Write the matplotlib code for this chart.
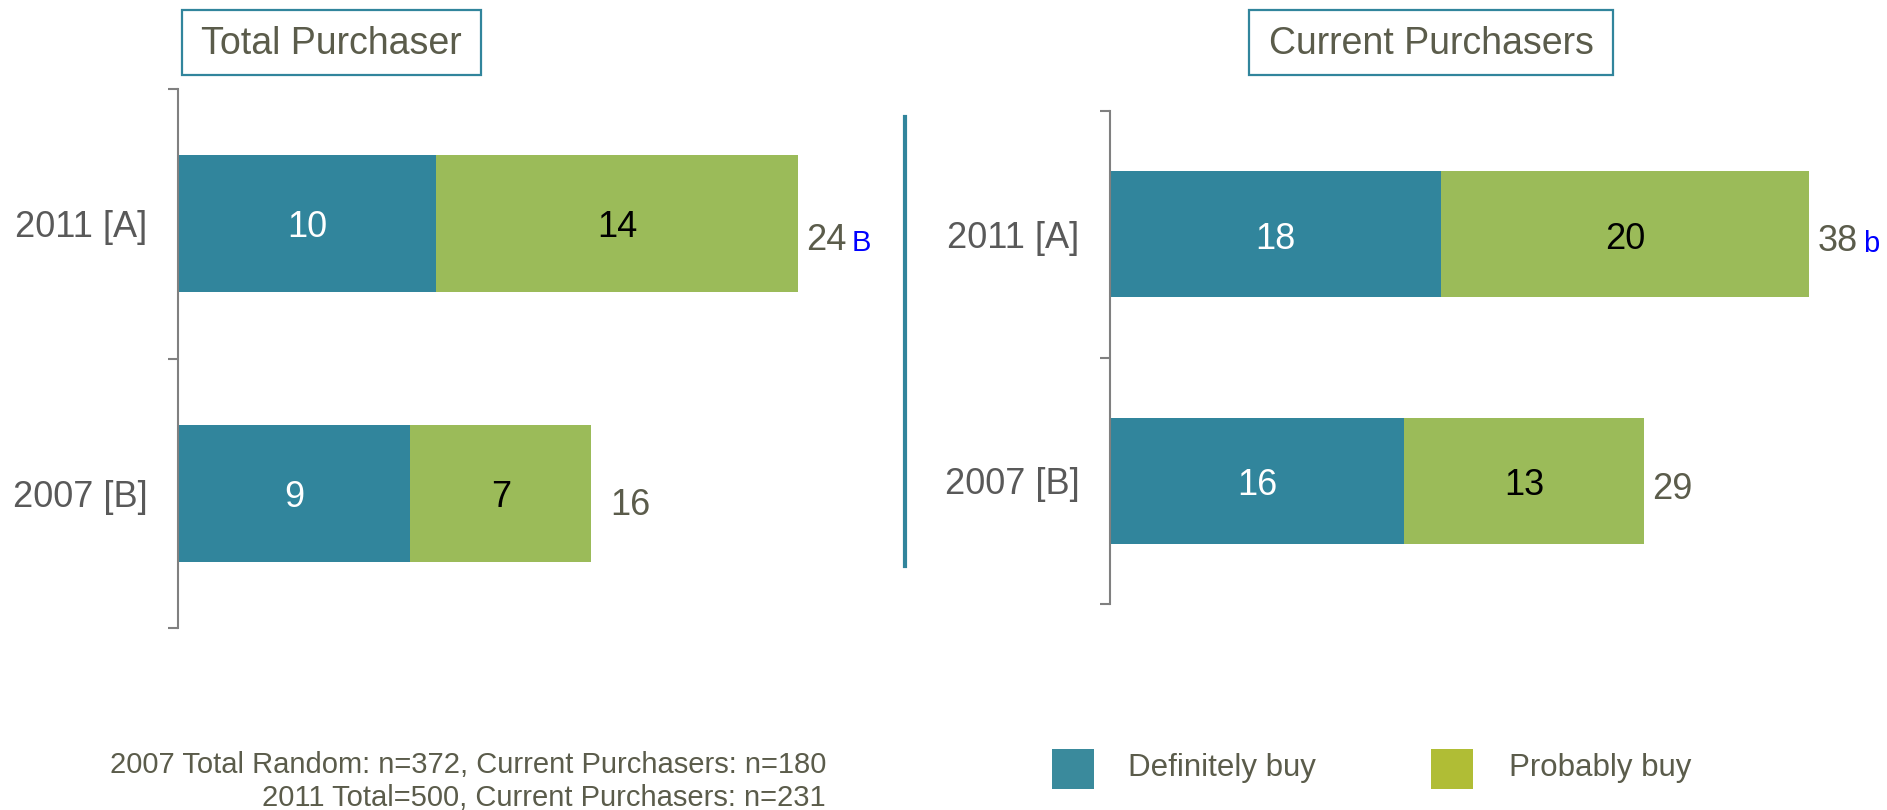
import matplotlib
matplotlib.use("Agg")
import matplotlib.pyplot as plt
from matplotlib.patches import Rectangle
from matplotlib.lines import Line2D

plt.rcParams['font.family'] = ['Liberation Sans', 'DejaVu Sans']

# ---- data ----
categories = ["2011 [A]", "2007 [B]"]
panel_titles = ["Total Purchaser", "Current Purchasers"]
definitely_total = [10, 9]
probably_total = [14, 7]
definitely_current = [18, 16]
probably_current = [20, 13]
sig_total = ["B", ""]
sig_current = ["b", ""]
series_names = ["Definitely buy", "Probably buy"]
footnote_lines = ["2007 Total Random: n=372, Current Purchasers: n=180",
                  "2011 Total=500, Current Purchasers: n=231"]

# ---- style ----
TEAL = "#31859C"
GREEN = "#9BBB59"
LEG_TEAL = "#3A8A9C"
LEG_GREEN = "#B0BD35"
OLIVE_TXT = "#5B5C4B"
GRAY_TXT = "#595959"
SPINE = "#808080"

W, H = 1887, 810
fig = plt.figure(figsize=(W / 100, H / 100), dpi=100)


def fx(px):
    return px / W


def fy(py):
    return 1 - py / H


def panel(rect_px, xmax, defin, prob, sig, total_off, inner_dy):
    x0, y0, x1, y1 = rect_px
    ax = fig.add_axes([fx(x0), fy(y1), fx(x1 - x0), (y1 - y0) / H])
    ypos = list(range(len(categories)))
    ax.barh(ypos, defin, height=0.51, color=TEAL, edgecolor='none')
    ax.barh(ypos, prob, left=defin, height=0.51, color=GREEN, edgecolor='none')
    for i, (d, p) in enumerate(zip(defin, prob)):
        ax.annotate(str(d), xy=(d / 2, i), xytext=(0, inner_dy),
                    textcoords='offset points', ha='center', va='center',
                    fontsize=26, color='white')
        ax.annotate(str(p), xy=(d + p / 2, i), xytext=(0, inner_dy),
                    textcoords='offset points', ha='center', va='center',
                    fontsize=26, color='black')
        tot = d + p
        ann = ax.annotate(str(tot), xy=(tot, i), xytext=total_off[i],
                          textcoords='offset points', ha='left', va='center',
                          fontsize=26, color=OLIVE_TXT)
        if sig[i]:
            ax.annotate(sig[i], xy=(1, 0.5), xycoords=ann, xytext=(4, -2),
                        textcoords='offset points', ha='left', va='center',
                        fontsize=21, color='#0000FF')
    ax.set_xlim(0, xmax)
    ax.set_ylim(len(categories) - 0.5, -0.5)
    for s in ['top', 'right', 'bottom']:
        ax.spines[s].set_visible(False)
    ax.spines['left'].set_color(SPINE)
    ax.spines['left'].set_linewidth(1.5)
    ax.set_xticks([])
    ax.set_yticks([-0.5, 0.5, 1.5])
    ax.set_yticklabels([])
    ax.tick_params(axis='y', direction='out', length=7, width=1.5, color=SPINE)
    ax.set_yticks(ypos, minor=True)
    ax.set_yticklabels(categories, minor=True)
    ax.tick_params(axis='y', which='minor', length=0, pad=22, labelsize=26,
                   labelcolor=GRAY_TXT)
    return ax


panel((178, 89, 178 + 27 * 25.82, 628), 27, definitely_total, probably_total,
      sig_total, [(6, -12), (14, -9)], -3)
panel((1110, 111, 1110 + 42 * 18.40, 604), 42, definitely_current, probably_current,
      sig_current, [(6, -5), (6, -6)], -3.5)

# title boxes
for title, (bx0, bx1) in zip(panel_titles, [(182, 481), (1249, 1613)]):
    fig.patches.append(Rectangle((fx(bx0), fy(75)), fx(bx1 - bx0), (75 - 10) / H,
                                 transform=fig.transFigure, fill=False,
                                 edgecolor=TEAL, linewidth=1.6))
    fig.text(fx((bx0 + bx1) / 2), fy(44), title, ha='center', va='center',
             fontsize=27, color=OLIVE_TXT)

# divider
fig.add_artist(Line2D([fx(905), fx(905)], [fy(117), fy(566)], color=TEAL,
                      linewidth=3, transform=fig.transFigure))

# legend
for name, col, sq_x, tx in zip(series_names, [LEG_TEAL, LEG_GREEN], [1052, 1431],
                               [1128, 1509]):
    fig.patches.append(Rectangle((fx(sq_x), fy(789)), fx(42), 40 / H,
                                 transform=fig.transFigure, facecolor=col,
                                 edgecolor='none'))
    fig.text(fx(tx), fy(768), name, ha='left', va='center', fontsize=22.5,
             color=OLIVE_TXT)

# footnote
for line, yy in zip(footnote_lines, [765, 798]):
    fig.text(fx(826), fy(yy), line, ha='right', va='center', fontsize=21,
             color=OLIVE_TXT)

fig.savefig("out.png", dpi=100)
